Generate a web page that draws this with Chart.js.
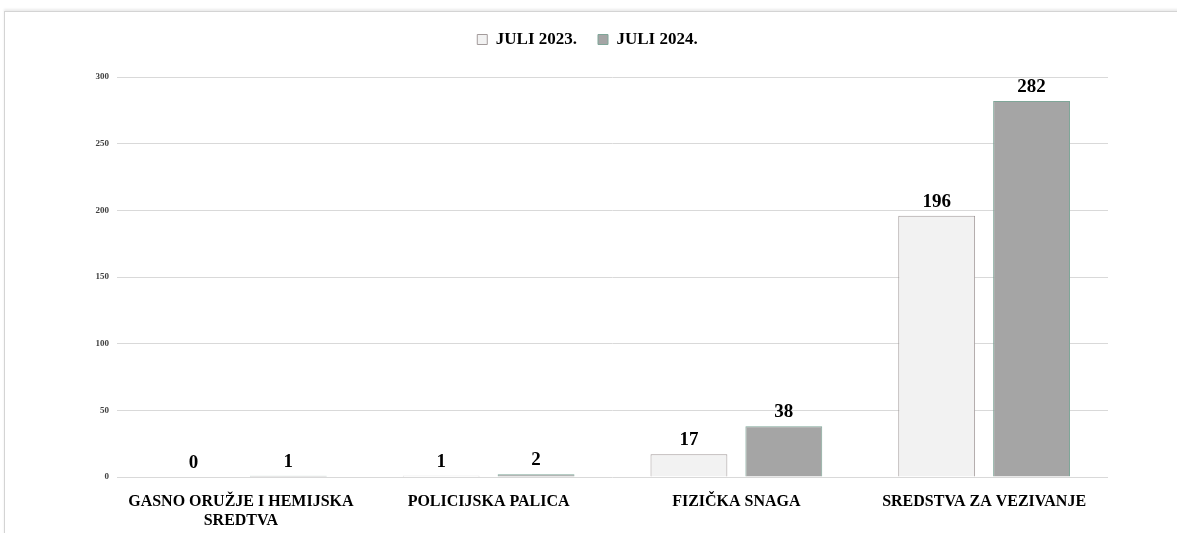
<!DOCTYPE html>
<html>
<head>
<meta charset="utf-8">
<script src="https://cdn.jsdelivr.net/npm/chart.js@4.4.1/dist/chart.umd.min.js"></script>
<style>
  html, body { margin: 0; padding: 0; background: #fff; }
  body { width: 1177px; height: 533px; position: relative; overflow: hidden; }
  .frame {
    position: absolute; left: 4px; top: 11px; width: 1180px; height: 530px;
    border-top: 1px solid #d4d4d4; border-left: 1px solid #d4d4d4;
    box-shadow: 0 -2px 2px #ececec;
  }
  .wrap { position: absolute; left: 0; top: 0; width: 1177px; height: 533px; }
</style>
</head>
<body>
<div class="frame"></div>
<div class="wrap"><canvas id="chart"></canvas></div>
<script>
const categories = [
  ['GASNO ORUŽJE I HEMIJSKA', 'SREDTVA'],
  'POLICIJSKA PALICA',
  'FIZIČKA SNAGA',
  'SREDSTVA ZA VEZIVANJE',
];
const seriesNames = ['JULI 2023.', 'JULI 2024.'];
const juli2023 = [0, 1, 17, 196];
const juli2024 = [1, 2, 38, 282];
const yTicks = [0, 50, 100, 150, 200, 250, 300];

const serif = "'Liberation Serif', 'DejaVu Serif', serif";

// draws the value above every bar
const valueLabels = {
  id: 'valueLabels',
  afterDatasetsDraw(chart) {
    const ctx = chart.ctx;
    ctx.save();
    ctx.font = 'bold 19px ' + serif;
    ctx.fillStyle = '#000';
    ctx.textAlign = 'center';
    ctx.textBaseline = 'alphabetic';
    chart.data.datasets.forEach((ds, i) => {
      chart.getDatasetMeta(i).data.forEach((bar, j) => {
        ctx.fillText(String(ds.data[j]), bar.x, bar.y - 9);
      });
    });
    ctx.restore();
  },
};

// leaves some room between the legend and the plot
const legendGap = {
  id: 'legendGap',
  beforeLayout(chart) {
    const lg = chart.legend;
    if (lg && !lg._gapPatched) {
      const fit = lg.fit.bind(lg);
      lg.fit = function () {
        fit();
        this.height += 19;
      };
      lg._gapPatched = true;
    }
  },
};

new Chart(document.getElementById('chart'), {
  type: 'bar',
  data: {
    labels: categories,
    datasets: [
      {
        label: seriesNames[0],
        data: juli2023,
        backgroundColor: '#f2f2f2',
        borderColor: '#a39b9b',
        borderWidth: 1,
        categoryPercentage: 0.766,
        barPercentage: 0.81,
      },
      {
        label: seriesNames[1],
        data: juli2024,
        backgroundColor: '#a5a5a5',
        borderColor: '#7fa698',
        borderWidth: 1,
        categoryPercentage: 0.766,
        barPercentage: 0.81,
      },
    ],
  },
  options: {
    responsive: true,
    maintainAspectRatio: false,
    animation: false,
    layout: { padding: { top: 10, left: 67, right: 69, bottom: 0 } },
    plugins: {
      tooltip: { enabled: false },
      legend: {
        position: 'top',
        labels: {
          color: '#000',
          font: { family: serif, size: 17, weight: 'bold' },
          boxWidth: 10,
          boxHeight: 10,
          padding: 21,
        },
      },
    },
    scales: {
      x: {
        grid: { display: false },
        border: { display: false },
        ticks: {
          color: '#000',
          font: { family: serif, size: 16, weight: 'bold', lineHeight: 1.15 },
          padding: 8,
          maxRotation: 0,
          autoSkip: false,
        },
        afterFit(scale) { scale.height = 56; },
      },
      y: {
        min: 0,
        max: 300,
        afterBuildTicks(scale) { scale.ticks = yTicks.map((v) => ({ value: v })); },
        grid: { color: '#d9d9d9', drawTicks: false },
        border: { display: false },
        ticks: {
          color: '#404040',
          font: { family: serif, size: 9, weight: 'bold' },
          padding: 8,
        },
        afterFit(scale) { scale.width = 50; },
      },
    },
  },
  plugins: [valueLabels, legendGap],
});
</script>
</body>
</html>
